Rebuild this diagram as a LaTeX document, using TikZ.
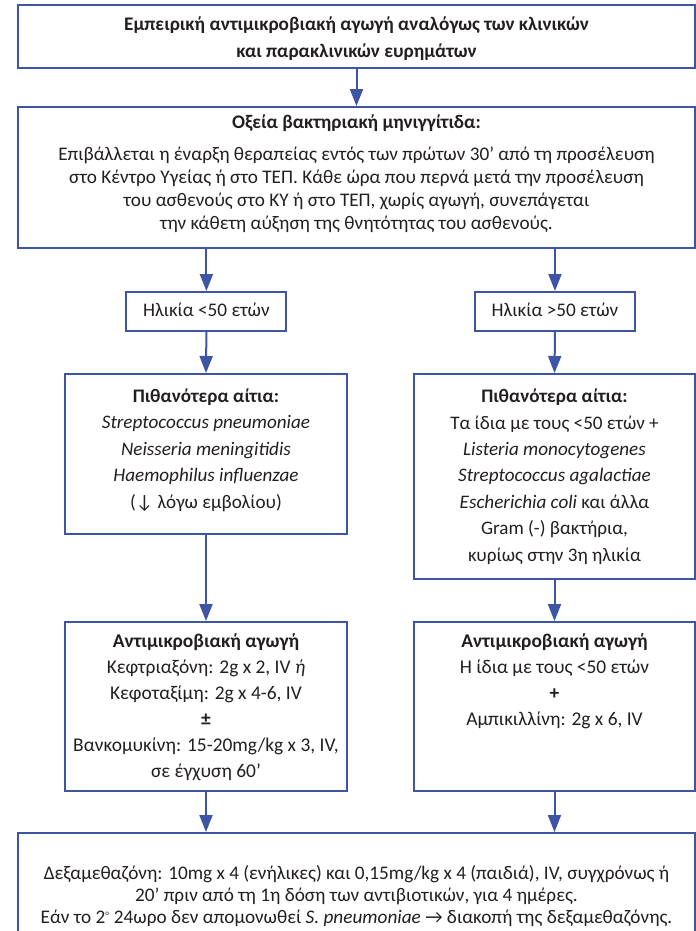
\documentclass[tikz,border=0pt]{standalone}
\usepackage{fontspec}
\setmainfont{Carlito}
\usetikzlibrary{arrows.meta}
\definecolor{myblue}{RGB}{62,84,164}
\definecolor{txt}{RGB}{35,31,32}
\tikzset{
  box/.style={draw=myblue, line width=2bp, inner sep=0pt},
  arr/.style={draw=myblue, line width=2bp, -{Triangle[width=13bp,length=17bp]}},
  txtnode/.style={align=center, inner sep=0pt, anchor=base, text=txt},
}
\begin{document}
\begin{tikzpicture}[x=1bp,y=-1bp]
\useasboundingbox (0,0) rectangle (696,931);
\fill[white] (0,0) rectangle (696,931);
% boxes
\node[box, minimum width=677bp, minimum height=63bp] (top) at (356.5,36.5) {};
\node[box, minimum width=677bp, minimum height=141bp] (acute) at (356.5,177.5) {};
\node[box, minimum width=160bp, minimum height=39bp] (ageL) at (206.4,311.5) {};
\node[box, minimum width=160bp, minimum height=39bp] (ageR) at (555,311.5) {};
\node[box, minimum width=282bp, minimum height=160bp] (causeL) at (206,454) {};
\node[box, minimum width=281bp, minimum height=205bp] (causeR) at (554.5,476.5) {};
\node[box, minimum width=282bp, minimum height=169bp] (treatL) at (206,706.5) {};
\node[box, minimum width=281bp, minimum height=169bp] (treatR) at (554.5,706.5) {};
\node[box, minimum width=677bp, minimum height=110bp] (dexa) at (356.5,888) {};
% texts (anchor base = baseline of last line)
\node[txtnode, font=\fontsize{19.3}{27}\selectfont\bfseries] (t1) at (356.5,57)
  {Εμπειρική αντιμικροβιακή αγωγή αναλόγως των κλινικών\\ και παρακλινικών ευρημάτων};
\node[txtnode, font=\fontsize{19.3}{23}\selectfont] (t2) at (356.5,229)
  {\textbf{Οξεία βακτηριακή μηνιγγίτιδα:}\\[9bp]
   Επιβάλλεται η έναρξη θεραπείας εντός των πρώτων 30’ από τη προσέλευση\\
   στο Κέντρο Υγείας ή στο ΤΕΠ. Κάθε ώρα που περνά μετά την προσέλευση\\
   του ασθενούς στο ΚΥ ή στο ΤΕΠ, χωρίς αγωγή, συνεπάγεται\\
   την κάθετη αύξηση της θνητότητας του ασθενούς.};
\node[txtnode, font=\fontsize{19.3}{23}\selectfont] (t3) at (206.4,316.5) {Ηλικία <50 ετών};
\node[txtnode, font=\fontsize{19.3}{23}\selectfont] (t4) at (555,316.5) {Ηλικία >50 ετών};
\node[txtnode, font=\fontsize{19.2}{26.5}\selectfont] (t5) at (206,508)
  {\textbf{Πιθανότερα αίτια:}\\
   \textit{Streptococcus pneumoniae}\\
   \textit{Neisseria meningitidis}\\
   \textit{Haemophilus influenzae}\\
   (↓ λόγω εμβολίου)};
\node[txtnode, font=\fontsize{19.2}{26.5}\selectfont] (t6) at (554.5,561)
  {\textbf{Πιθανότερα αίτια:}\\
   Τα ίδια με τους <50 ετών +\\
   \textit{Listeria monocytogenes}\\
   \textit{Streptococcus agalactiae}\\
   \textit{Escherichia coli} και άλλα\\
   Gram (-) βακτήρια,\\
   κυρίως στην 3η ηλικία};
\node[txtnode, font=\fontsize{19.5}{26}\selectfont] (t7) at (206,777)
  {\textbf{Αντιμικροβιακή αγωγή}\\
   Κεφτριαξόνη: 2g x 2, IV \textit{ή}\\
   Κεφοταξίμη: 2g x 4-6, IV\\
   \textbf{±}\\
   Βανκομυκίνη: 15-20mg/kg x 3, IV,\\
   σε έγχυση 60’};
\node[txtnode, font=\fontsize{19.5}{26}\selectfont] (t8) at (554.5,725)
  {\textbf{Αντιμικροβιακή αγωγή}\\
   Η ίδια με τους <50 ετών\\
   \textbf{+}\\
   Αμπικιλλίνη: 2g x 6, IV};
\node[txtnode, font=\fontsize{19.3}{22}\selectfont] (t9) at (356.5,923)
  {Δεξαμεθαζόνη: 10mg x 4 (ενήλικες) και 0,15mg/kg x 4 (παιδιά), IV, συγχρόνως ή\\
   20’ πριν από τη 1η δόση των αντιβιοτικών, για 4 ημέρες.\\
   Εάν το 2\textsuperscript{\scriptsize o} 24ωρο δεν απομονωθεί \textit{S. pneumoniae} → διακοπή της δεξαμεθαζόνης.};
% connectors
\draw[arr] (top.south) -- (acute.north);
\draw[arr] (acute.south -| ageL) -- (ageL.north);
\draw[arr] (acute.south -| ageR) -- (ageR.north);
\draw[arr] (ageL.south) -- (causeL.north);
\draw[arr] (ageR.south) -- (causeR.north);
\draw[arr] (causeL.south) -- (treatL.north);
\draw[arr] (causeR.south) -- (treatR.north);
\draw[arr] (treatL.south) -- (dexa.north -| treatL);
\draw[arr] (treatR.south) -- (dexa.north -| treatR);
\end{tikzpicture}
\end{document}
